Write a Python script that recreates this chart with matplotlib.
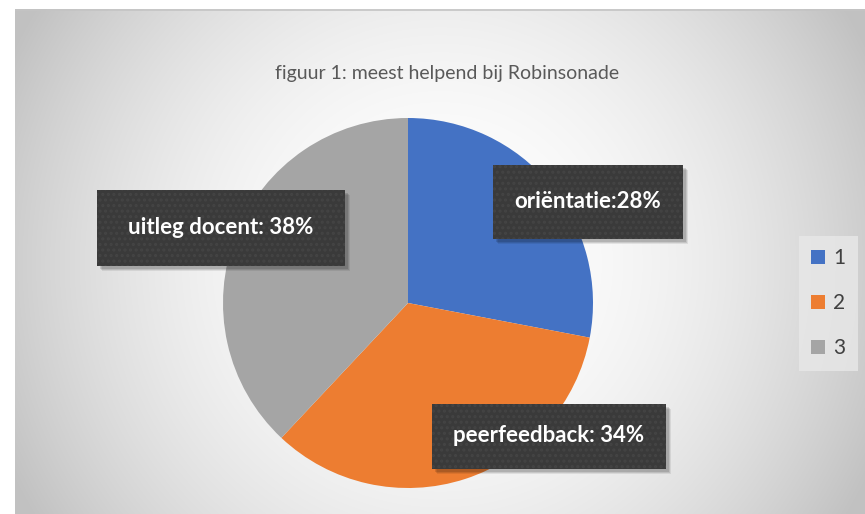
import numpy as np
import matplotlib.pyplot as plt
from matplotlib.patches import Rectangle

plt.rcParams['font.family'] = ['Lato', 'DejaVu Sans']
plt.rcParams['hatch.linewidth'] = 1.5

# data
categories = ['1', '2', '3']
shares = [28, 34, 38]
slice_labels = ['oriëntatie:28%', 'peerfeedback: 34%', 'uitleg docent: 38%']
colors = ['#4472C4', '#ED7D31', '#A5A5A5']
title = 'figuur 1: meest helpend bij Robinsonade'

W, H = 865, 514
fig = plt.figure(figsize=(W / 100, H / 100), dpi=100)
fig.patch.set_facecolor('white')

# chart area with radial grey gradient
cx0, cy0, cw, ch = 15, 0, 850, 505
bg = fig.add_axes([cx0 / W, cy0 / H, cw / W, ch / H])
yy, xx = np.mgrid[0:ch, 0:cw]
d = np.hypot(xx - 425, yy - 250)
t = np.clip(d / 480, 0, 1)
g = (255 - 62 * t ** 2) / 255
bg.imshow(np.dstack([g, g, g]), extent=[0, cw, 0, ch], aspect='auto', origin='lower')
bg.set_xlim(0, cw)
bg.set_ylim(0, ch)
bg.axis('off')
bg.plot([0, cw], [ch - 0.5, ch - 0.5], color='#c4c4c4', lw=1.2)

fig.text(447 / W, 1 - 74 / H, title, ha='center', va='center', fontsize=14, color='#595959')

# pie
r = 185
pax = fig.add_axes([(408 - r) / W, (H - 303 - r) / H, 2 * r / W, 2 * r / H])
pax.pie(shares, colors=colors, startangle=90, counterclock=False, radius=1,
        wedgeprops=dict(linewidth=0))
pax.set_xlim(-1, 1)
pax.set_ylim(-1, 1)
pax.axis('off')

# label boxes (centre x, centre y, width, height) in pixels from top-left
boxes = [(588, 202, 190, 74), (549, 436, 234, 65), (221, 228, 248, 76)]
lab = fig.add_axes([0, 0, 1, 1])
lab.set_xlim(0, W)
lab.set_ylim(H, 0)
lab.axis('off')
for (bx, by, bw, bh), txt in zip(boxes, slice_labels):
    for k, a in [(5, 0.08), (4, 0.1), (3, 0.12)]:
        lab.add_patch(Rectangle((bx - bw / 2 + k, by - bh / 2 + k), bw, bh,
                                facecolor='black', alpha=a, lw=0))
    lab.add_patch(Rectangle((bx - bw / 2, by - bh / 2), bw, bh,
                            facecolor='#3a3a3a', edgecolor='#444444', hatch='...', lw=0))
    lab.text(bx, by, txt, ha='center', va='center', fontsize=16, fontweight='bold',
             color='white')

# legend
handles = [Rectangle((0, 0), 1, 1, facecolor=c) for c in colors]
leg = fig.legend(handles, categories, loc='center', bbox_to_anchor=(828 / W, 1 - 303 / H),
                 frameon=True, fontsize=15, handlelength=0.65, handleheight=0.65,
                 handletextpad=0.4, labelspacing=1.2, borderpad=0.6, borderaxespad=0,
                 labelcolor='#404040', fancybox=False)
leg.get_frame().set_facecolor('#e8e8e8')
leg.get_frame().set_edgecolor('none')
leg.get_frame().set_alpha(0.8)

fig.savefig('out.png', dpi=100)
